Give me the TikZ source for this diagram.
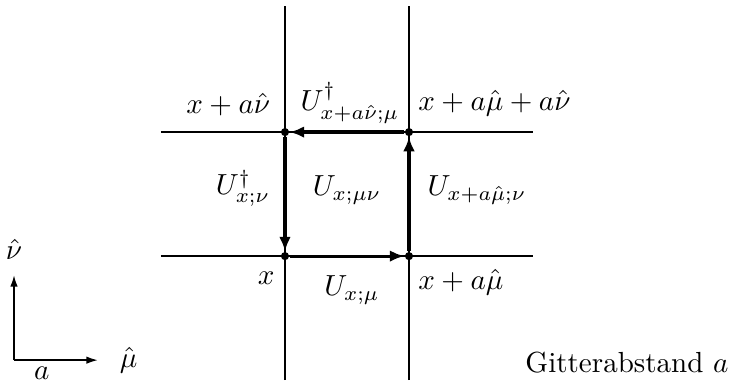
\documentclass[tikz,border=0pt]{standalone}
\usepackage{amsmath,amssymb}
\usetikzlibrary{arrows.meta,positioning}
\tikzset{
  gridline/.style={line width=0.55pt},
  gridcol/.style={line width=0.8pt},
  link/.style={line width=1.1pt, -{Latex[length=5pt,width=4pt]}},
  site/.style={circle, fill, inner sep=0pt, minimum size=2.8pt},
  axis/.style={line width=0.6pt, -{Latex[length=4pt,width=2.6pt]}},
  lbl/.style={inner sep=1pt},
}

\begin{document}
\begin{tikzpicture}[x=1.5cm, y=1.5cm]
    \useasboundingbox (-2.298,-1.065) rectangle (3.653,2.065);

    % --- lattice ---
    \draw[gridline] (-1,0) -- (2,0);
    \draw[gridline] (-1,1) -- (2,1);
    \draw[gridcol] (0,-1) -- (0,2.02);
    \draw[gridcol] (1,-1) -- (1,2.02);

    % --- sites of the plaquette ---
    \node[site] (x) at (0,0) {};
    \node[site] (xmu) at (1,0) {};
    \node[site] (xmunu) at (1,1) {};
    \node[site] (xnu) at (0,1) {};

    \node[lbl, above left=3.3pt and 2.8pt of xnu] (lxnu) {$x+a\hat{\nu}$};
    \node[lbl, above right=3.3pt and 0.9pt of xmunu] (lxmunu) {$x+a\hat{\mu}+a\hat{\nu}$};
    \node[lbl, below left=3.3pt and 1.3pt of x] (lx) {$x$};
    \node[lbl, below right=2.3pt and 0.9pt of xmu] (lxmu) {$x+a\hat{\mu}$};

    % --- links ---
    \draw[link] (x) -- (xmu);
    \draw[link] (xmu) -- (xmunu);
    \draw[link] (xmunu) -- (xnu);
    \draw[link] (xnu) -- (x);

    \node[lbl] (ubot) at (0.54,-0.274) {$U_{x;\mu}$};
    \node[lbl] (uright) at (1.548,0.532) {$U_{x+a\hat{\mu};\nu}$};
    \node[lbl] (utop) at (0.524,1.234) {$U^\dagger_{x+a\hat{\nu};\mu}$};
    \node[lbl] (uleft) at (-0.339,0.548) {$U^\dagger_{x;\nu}$};
    \node[lbl] (uplaq) at (0.5,0.532) {$U_{x;\mu\nu}$};

    % --- directions ---
    \coordinate (o) at (-2.185,-0.839);
    \coordinate (emu) at (-1.508,-0.839);
    \coordinate (enu) at (-2.185,-0.153);
    \draw[axis] (o) -- (emu);
    \draw[axis] (o) -- (enu);
    \node[lbl, right=6.3pt of emu] (lmu) {$\hat{\mu}$};
    \node[lbl, above=4.3pt of enu] (lnu) {$\hat{\nu}$};
    \node[lbl, below=1.3pt] (la) at (-1.96,-0.839) {$a$};

    \node[lbl] (gitter) at (2.758,-0.855) {Gitterabstand $a$};
\end{tikzpicture}
\end{document}
